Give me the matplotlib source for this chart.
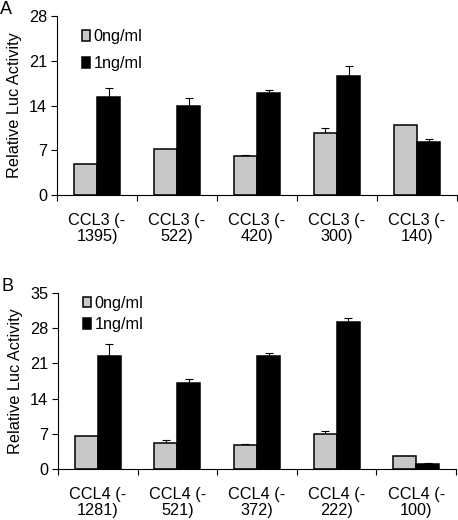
import numpy as np
import matplotlib.pyplot as plt

plt.rcParams["font.family"] = ["Liberation Sans", "DejaVu Sans"]
plt.rcParams["font.size"] = 11.7

# panel A
labels_a = ["CCL3 (-\n1395)", "CCL3 (-\n522)", "CCL3 (-\n420)", "CCL3 (-\n300)", "CCL3 (-\n140)"]
ctrl_a = [4.8, 7.2, 6.1, 9.7, 10.9]
ctrl_a_err = [0.1, 0.05, 0.1, 0.8, 0.1]
treat_a = [15.4, 13.9, 15.9, 18.6, 8.3]
treat_a_err = [1.4, 1.2, 0.5, 1.6, 0.4]

# panel B
labels_b = ["CCL4 (-\n1281)", "CCL4 (-\n521)", "CCL4 (-\n372)", "CCL4 (-\n222)", "CCL4 (-\n100)"]
ctrl_b = [6.6, 5.2, 4.8, 7.0, 2.5]
ctrl_b_err = [0.05, 0.5, 0.15, 0.5, 0.1]
treat_b = [22.4, 17.1, 22.4, 29.2, 1.0]
treat_b_err = [2.4, 0.7, 0.7, 0.8, 0.1]

series_names = ["0ng/ml", "1ng/ml"]
colors = ["#c8c8c8", "#000000"]

fig = plt.figure(figsize=(4.58, 5.2), dpi=100)
ax_a = fig.add_axes([57 / 458, 1 - 195 / 520, 400 / 458, 179 / 520])
ax_b = fig.add_axes([58 / 458, 1 - 469 / 520, 398 / 458, 176 / 520])


def draw_panel(ax, labels, ctrl, ctrl_err, treat, treat_err, ymax, tag, spacing, leg_y):
    x = np.arange(len(labels))
    w = 0.29
    for vals, errs, off, color, name in [
        (ctrl, ctrl_err, -w / 2, colors[0], series_names[0]),
        (treat, treat_err, w / 2, colors[1], series_names[1]),
    ]:
        ax.bar(x + off, vals, w, color=color, edgecolor="black", linewidth=1.1,
               label=name, zorder=2)
        ax.errorbar(x + off, vals, yerr=[np.zeros(len(errs)), errs], fmt="none",
                    ecolor="black", elinewidth=0.8, capsize=3, capthick=0.8, zorder=1)
    ax.set_xlim(-0.5, len(labels) - 0.5)
    ax.set_ylim(0, ymax)
    ax.set_yticks(np.arange(0, ymax + 1, 7))
    ax.set_xticks(np.arange(len(labels) + 1) - 0.5, minor=False)
    ax.set_xticklabels([])
    ax.set_xticks(x, minor=True)
    ax.set_xticklabels(labels, minor=True, linespacing=1.05)
    ax.tick_params(axis="x", which="minor", length=0, pad=13)
    ax.tick_params(axis="x", which="major", length=4, direction="out")
    ax.tick_params(axis="y", length=4, direction="out", pad=3)
    ax.spines["top"].set_visible(False)
    ax.spines["right"].set_visible(False)
    ax.set_ylabel("Relative Luc Activity", labelpad=5)
    ax.legend(loc="upper left", bbox_to_anchor=(0.035, leg_y), frameon=False,
              handlelength=0.45, handleheight=0.6, handletextpad=0.25,
              labelspacing=spacing, borderaxespad=0.3)
    ax.text(-0.143, 0.99, tag, transform=ax.transAxes, fontsize=13, va="bottom", ha="left")


draw_panel(ax_a, labels_a, ctrl_a, ctrl_a_err, treat_a, treat_a_err, 28, "A", 0.75, 0.99)
draw_panel(ax_b, labels_b, ctrl_b, ctrl_b_err, treat_b, treat_b_err, 35, "B", 0.4, 1.05)

fig.savefig("out.png", dpi=100)
